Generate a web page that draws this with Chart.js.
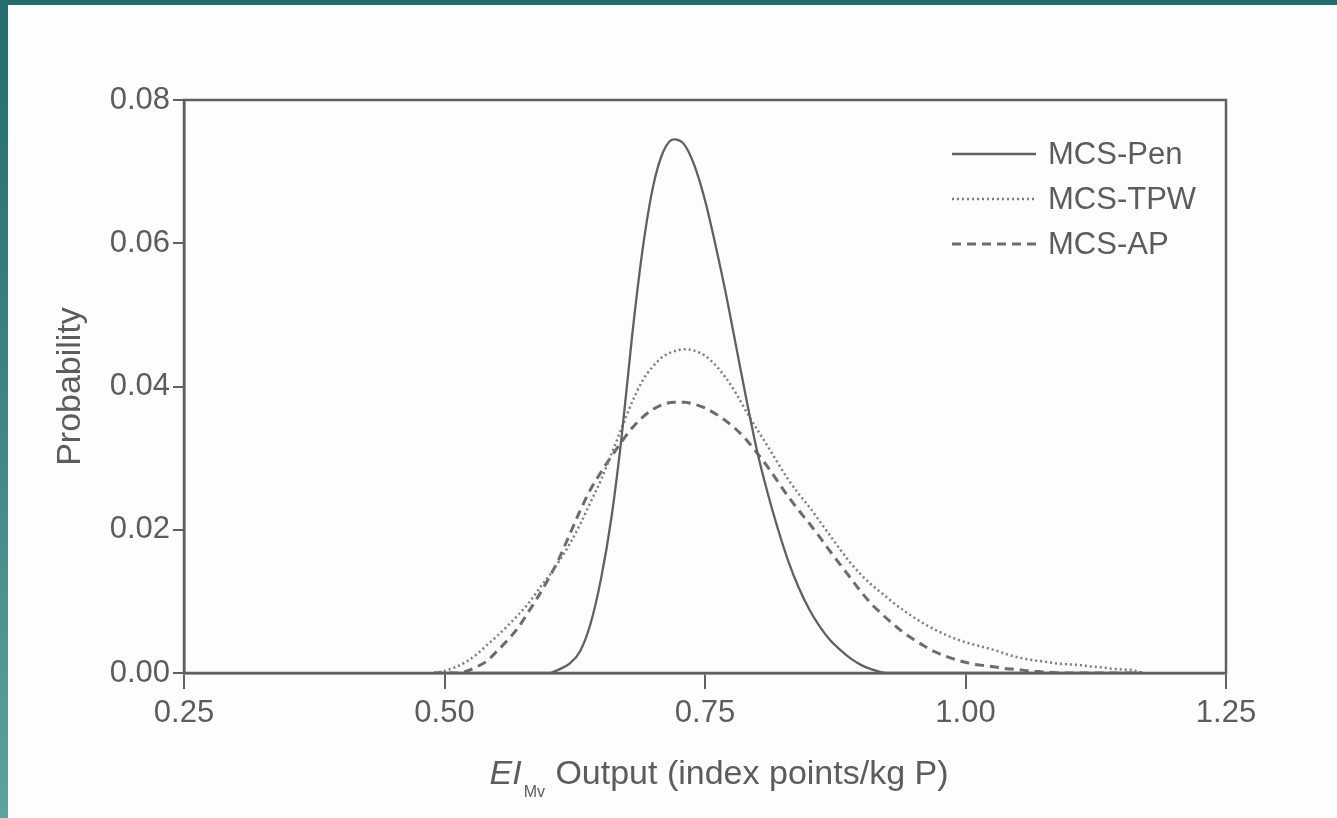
<!DOCTYPE html>
<html>
<head>
<meta charset="utf-8">
<script src="https://cdn.jsdelivr.net/npm/chart.js@4"></script>
<style>
    html, body { margin: 0; padding: 0; background: #fdfdfd; }
    body { width: 1337px; height: 818px; position: relative; overflow: hidden; }
    #chart { position: absolute; left: 0; top: 0; }
    .bar-top { position: absolute; left: 0; top: 0; width: 1337px; height: 5px; background: #236d6d; }
    .bar-left { position: absolute; left: 0; top: 0; width: 8px; height: 818px; background: linear-gradient(#236d6d, #3f8585 50%, #5fa0a0); }
</style>
</head>
<body>
<canvas id="chart" width="1337" height="818"></canvas>
<div class="bar-top"></div>
<div class="bar-left"></div>
<script>
// x grid shared by the three curves (EI_Mv output, index points/kg P)
const xGrid = [0.49, 0.50, 0.51, 0.52, 0.53, 0.54, 0.55, 0.56, 0.57, 0.58, 0.59,
    0.60, 0.61, 0.62, 0.63, 0.64, 0.65, 0.66, 0.67, 0.68, 0.69,
    0.70, 0.71, 0.72, 0.73, 0.74, 0.75, 0.76, 0.77, 0.78, 0.79,
    0.80, 0.81, 0.82, 0.83, 0.84, 0.85, 0.86, 0.87, 0.88, 0.89,
    0.90, 0.91, 0.92, 0.93, 0.94, 0.95, 0.96, 0.97, 0.98, 0.99,
    1.00, 1.01, 1.02, 1.03, 1.04, 1.05, 1.06, 1.07, 1.08, 1.09,
    1.10, 1.11, 1.12, 1.13, 1.14, 1.15, 1.16, 1.17];

const penValues = [0, 0, 0, 0, 0, 0, 0, 0, 0, 0, 0,
    0, 0.0005, 0.0013, 0.0030, 0.0068, 0.0130, 0.0215, 0.0330, 0.0470, 0.0590,
    0.0678, 0.0728, 0.0745, 0.0738, 0.0708, 0.0660, 0.0598, 0.0530, 0.0455, 0.0380,
    0.0310, 0.0252, 0.0201, 0.0156, 0.0119, 0.0089, 0.0065, 0.0046, 0.0032, 0.0020,
    0.0011, 0.0005, 0.0001, 0, 0, 0, 0, 0, 0, 0,
    0, 0, 0, 0, 0, 0, 0, 0, 0, 0,
    0, 0, 0, 0, 0, 0, 0, 0];

const tpwValues = [0, 0.0003, 0.0008, 0.0015, 0.0025, 0.0038, 0.0051, 0.0065, 0.0080, 0.0096, 0.0116,
    0.0135, 0.0156, 0.0180, 0.0207, 0.0238, 0.0269, 0.0305, 0.0342, 0.0378, 0.0408,
    0.0428, 0.0442, 0.0449, 0.0452, 0.0450, 0.0443, 0.0430, 0.0412, 0.0390, 0.0364,
    0.0340, 0.0317, 0.0293, 0.0270, 0.0250, 0.0232, 0.0212, 0.0192, 0.0172, 0.0153,
    0.0137, 0.0123, 0.0111, 0.0099, 0.0088, 0.0078, 0.0069, 0.0061, 0.0054, 0.0048,
    0.0043, 0.0039, 0.0035, 0.0031, 0.0026, 0.0022, 0.0019, 0.0017, 0.0015, 0.0013,
    0.0012, 0.0011, 0.0009, 0.0008, 0.0006, 0.0005, 0.0004, 0];

const apValues = [0, 0, 0, 0.0002, 0.0008, 0.0016, 0.0030, 0.0045, 0.0062, 0.0084, 0.0107,
    0.0132, 0.0160, 0.0193, 0.0226, 0.0256, 0.0280, 0.0302, 0.0323, 0.0342, 0.0357,
    0.0368, 0.0375, 0.0378, 0.0378, 0.0375, 0.0370, 0.0362, 0.0352, 0.0340, 0.0325,
    0.0307, 0.0288, 0.0267, 0.0246, 0.0227, 0.0209, 0.0190, 0.0170, 0.0151, 0.0132,
    0.0113, 0.0096, 0.0082, 0.0069, 0.0057, 0.0047, 0.0038, 0.0030, 0.0024, 0.0019,
    0.0015, 0.0012, 0.0010, 0.0008, 0.0006, 0.0005, 0.0003, 0.0002, 0.0001, 0,
    0, 0, 0, 0, 0, 0, 0, 0];

const seriesNames = ["MCS-Pen", "MCS-TPW", "MCS-AP"];
const xTickValues = [0.25, 0.50, 0.75, 1.00, 1.25];
const yTickValues = [0.00, 0.02, 0.04, 0.06, 0.08];

const textColor = "#5c5c5c";
const inkColor = "#606060";
const fontFamily = "'Liberation Sans', Arial, sans-serif";

function toPoints(values) {
    return xGrid.map((x, i) => ({ x: x, y: values[i] }));
}

// box round the plot area (top and right sides)
const frame = {
    id: "frame",
    afterDatasetsDraw(chart) {
        const { ctx, chartArea: a } = chart;
        ctx.save();
        ctx.strokeStyle = inkColor;
        ctx.lineWidth = 2.5;
        ctx.strokeRect(a.left, a.top, a.right - a.left, a.bottom - a.top);
        ctx.restore();
    }
};

// legend inside the plot, top right
const innerLegend = {
    id: "innerLegend",
    afterDraw(chart) {
        const { ctx, chartArea: a } = chart;
        ctx.save();
        ctx.font = "31px " + fontFamily;
        ctx.textBaseline = "middle";
        chart.data.datasets.forEach((ds, i) => {
            const y = a.top + 54 + i * 45;
            ctx.strokeStyle = ds.borderColor;
            ctx.lineWidth = ds.borderWidth;
            ctx.setLineDash(ds.borderDash || []);
            ctx.beginPath();
            ctx.moveTo(a.right - 274, y);
            ctx.lineTo(a.right - 190, y);
            ctx.stroke();
            ctx.setLineDash([]);
            ctx.fillStyle = textColor;
            ctx.fillText(ds.label, a.right - 178, y + 1);
        });
        ctx.restore();
    }
};

// x axis title with italic EI and subscript Mv
const xTitle = {
    id: "xTitle",
    afterDraw(chart) {
        const { ctx, chartArea: a } = chart;
        const big = "34px " + fontFamily;
        const small = "16px " + fontFamily;
        const rest = " Output (index points/kg P)";
        ctx.save();
        ctx.fillStyle = textColor;
        ctx.textBaseline = "alphabetic";
        ctx.font = "italic " + big;
        const w1 = ctx.measureText("EI").width;
        ctx.font = small;
        const w2 = ctx.measureText("Mv").width;
        ctx.font = big;
        const w3 = ctx.measureText(rest).width;
        let x = (a.left + a.right) / 2 + 14 - (w1 + w2 + 3 + w3) / 2;
        const base = a.bottom + 111;
        ctx.font = "italic " + big;
        ctx.fillText("EI", x, base);
        x += w1 + 2;
        ctx.font = small;
        ctx.fillText("Mv", x, base + 13);
        x += w2 + 1;
        ctx.font = big;
        ctx.fillText(rest, x, base);
        ctx.restore();
    }
};

new Chart(document.getElementById("chart"), {
    type: "line",
    data: {
        datasets: [
            {
                label: seriesNames[0],
                data: toPoints(penValues),
                borderColor: "#606060",
                borderWidth: 2.3
            },
            {
                label: seriesNames[1],
                data: toPoints(tpwValues),
                borderColor: "#7a7a8c",
                borderWidth: 2.5,
                borderDash: [2, 3]
            },
            {
                label: seriesNames[2],
                data: toPoints(apValues),
                borderColor: "#6c6c6c",
                borderWidth: 3,
                borderDash: [9, 6]
            }
        ]
    },
    options: {
        responsive: false,
        animation: false,
        layout: { padding: { top: 100, right: 111, left: 0, bottom: 0 } },
        elements: {
            point: { radius: 0 },
            line: { cubicInterpolationMode: "monotone", fill: false }
        },
        plugins: {
            legend: { display: false },
            tooltip: { enabled: false }
        },
        scales: {
            x: {
                type: "linear",
                min: xTickValues[0],
                max: xTickValues[xTickValues.length - 1],
                afterBuildTicks: (scale) => { scale.ticks = xTickValues.map(v => ({ value: v })); },
                afterFit: (scale) => { scale.height = 145; },
                ticks: {
                    color: textColor,
                    font: { family: fontFamily, size: 31 },
                    padding: 6,
                    maxRotation: 0,
                    callback: (v) => v.toFixed(2)
                },
                grid: { drawOnChartArea: false, drawTicks: true, tickLength: 16, color: inkColor, lineWidth: 2 },
                border: { color: inkColor, width: 2.5 }
            },
            y: {
                min: yTickValues[0],
                max: yTickValues[yTickValues.length - 1],
                afterBuildTicks: (scale) => { scale.ticks = yTickValues.map(v => ({ value: v })); },
                afterFit: (scale) => { scale.width = 184; },
                ticks: {
                    color: textColor,
                    font: { family: fontFamily, size: 31 },
                    padding: 3,
                    callback: (v) => v.toFixed(2)
                },
                grid: { drawOnChartArea: false, drawTicks: true, tickLength: 11, color: inkColor, lineWidth: 2 },
                border: { color: inkColor, width: 2.5 },
                title: {
                    display: true,
                    text: "Probability",
                    color: textColor,
                    font: { family: fontFamily, size: 34 },
                    padding: { top: 50, bottom: 0 }
                }
            }
        }
    },
    plugins: [frame, innerLegend, xTitle]
});
</script>
</body>
</html>
